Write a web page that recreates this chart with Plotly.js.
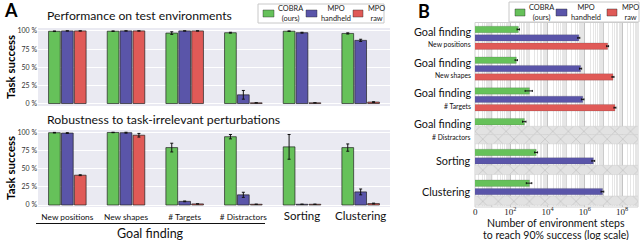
<!DOCTYPE html>
<html><head><meta charset="utf-8">
<script src="https://cdn.plot.ly/plotly-3.0.1.min.js"></script>
<style>html,body{margin:0;padding:0;background:#fff}#chart{width:640px;height:240px}</style>
</head><body><div id="chart"></div>
<script>
// ---------- DATA ----------
const categories = ['New positions','New shapes','# Targets','# Distractors','Sorting','Clustering'];
const seriesNames = ['COBRA<br>(ours)','MPO<br>handheld','MPO<br>raw'];
const colors = ['#66c15a','#5a55a9','#e05a57'];

// Panel A top: Performance on test environments (%)
const perfCobra      = [99.5, 99.6, 97.0, 97.5, 99.6, 96.5];
const perfCobraErr   = [0.4, 0.4, 1.8, 0.6, 0.4, 0.8];
const perfHandheld   = [100, 100, 100, 12, 97.5, 87];
const perfHandheldErr= [0, 0, 0, 6, 0.6, 1.5];
const perfRaw        = [100, 100, 100, 1, 1, 2];
const perfRawErr     = [0, 0, 0, 0, 0, 0.5];

// Panel A bottom: Robustness to task-irrelevant perturbations (%)
const robCobra       = [99.5, 99.8, 79, 94, 80, 79];
const robCobraErr    = [0.4, 0.3, 6, 3, 17, 5];
const robHandheld    = [99, 99.5, 5, 14, 1, 18];
const robHandheldErr = [0.5, 0.6, 0.5, 3.5, 0, 4];
const robRaw         = [41, 96, 1.5, 1, 1, 2];
const robRawErr      = [0.6, 2.5, 0, 0, 0, 0.6];

// Panel B: environment steps to reach 90% success
const stepGroups = ['Goal finding','Goal finding','Goal finding','Goal finding','Sorting','Clustering'];
const stepSubs   = ['New positions','New shapes','# Targets','# Distractors','',''];
const stepsCobra      = [270, 210, 1070, 570, 2450, 1070];
const stepsCobraErr   = [40, 30, 450, 120, 450, 350];
const stepsHandheld   = [4.8e5, 6.0e5, 7.8e5, null, 2.9e6, 9.0e6];
const stepsHandheldErr= [6e4, 8e4, 1.2e5, null, 5e5, 1.5e6];
const stepsRaw        = [1.7e7, 3.3e7, 4.2e7, null, null, null];
const stepsRawErr     = [2e6, 4e6, 5e6, null, null, null];
const handheldNotReached = [false, false, false, true, false, false];
const rawNotReached      = [false, false, false, true, true, true];

const xTickLabels = ['0','10<sup>2</sup>','10<sup>4</sup>','10<sup>6</sup>','10<sup>8</sup>'];

// ---------- LAYOUT HELPERS ----------
const W = 640, H = 240;
const X = p => p / W, Y = p => 1 - p / H;
const FONT = 'Lato, "Open Sans", sans-serif';

const stepIdx = stepGroups.map((g, i) => i);   // numeric category positions on the y3 axis

const leftOffsets = [-0.32, -0.1, 0.12], leftWidth = 0.2;
const rightOffsets = [-0.38, -0.105, 0.165], rightWidth = 0.21;
const edge = {color: 'rgba(30,30,30,0.85)', width: 0.8};
const errStyle = {color: '#111', thickness: 1, width: 1.5};

const perf = [[perfCobra, perfCobraErr],[perfHandheld, perfHandheldErr],[perfRaw, perfRawErr]];
const rob  = [[robCobra, robCobraErr],[robHandheld, robHandheldErr],[robRaw, robRawErr]];
const steps = [[stepsCobra, stepsCobraErr],[stepsHandheld, stepsHandheldErr],[stepsRaw, stepsRawErr]];

const traces = [];
for (let s = 0; s < 3; s++) {
  traces.push({type:'bar', x: categories, y: perf[s][0], xaxis:'x', yaxis:'y',
    offset: leftOffsets[s], width: leftWidth, marker:{color: colors[s], line: edge},
    error_y:{type:'data', array: perf[s][1], visible:true, ...errStyle}, showlegend:false, hoverinfo:'skip'});
  traces.push({type:'bar', x: categories, y: rob[s][0], xaxis:'x2', yaxis:'y2',
    offset: leftOffsets[s], width: leftWidth, marker:{color: colors[s], line: edge},
    error_y:{type:'data', array: rob[s][1], visible:true, ...errStyle}, showlegend:false, hoverinfo:'skip'});
  traces.push({type:'bar', orientation:'h', y: stepIdx, x: steps[s][0], xaxis:'x3', yaxis:'y3',
    offset: rightOffsets[s], width: rightWidth, marker:{color: colors[s], line:{color:'rgba(60,60,60,0.35)', width:0.5}},
    error_x:{type:'data', array: steps[s][1], visible:true, color:'#111', thickness:1, width:1}, showlegend:false, hoverinfo:'skip'});
}
// hatched "never reached" bars (fill whole axis)
const FAR = 1e10;
const hatch = {color:'#dedede', line:{color:'#cfcfcf', width:0.5},
  pattern:{shape:'x', fgcolor:'#c2c2c2', bgcolor:'#e2e2e2', size:11, solidity:0.12}};
traces.push({type:'bar', orientation:'h', y: stepIdx, x: handheldNotReached.map(v => v ? FAR : null),
  xaxis:'x3', yaxis:'y3', offset:-0.125, width:0.27, marker: hatch, showlegend:false, hoverinfo:'skip'});
traces.push({type:'bar', orientation:'h', y: stepIdx, x: rawNotReached.map(v => v ? FAR : null),
  xaxis:'x3', yaxis:'y3', offset:0.145, width:0.3, marker: hatch, showlegend:false, hoverinfo:'skip'});

// axis ticks / gridlines for the log axis (style only)
const LOGMIN = 0.1, LOGMAX = 8.86;
const majorVals = [Math.pow(10, 0.12), 1e2, 1e4, 1e6, 1e8];
const minorVals = [];
for (let d = 0; d <= 8; d++) for (let m = 2; m <= 9; m++) minorVals.push(m * Math.pow(10, d));

const yTickFont = {family: FONT, size: 7, color: '#333'};
const leftY = {tickvals:[0,25,50,75,100], ticktext:['0 %','25 %','50 %','75 %','100 %'],
  gridcolor:'#ffffff', gridwidth:1, zeroline:false, showline:false, ticks:'', tickfont: yTickFont, fixedrange:true};

const shapes = [
  // panel B white background
  {type:'rect', xref:'x3 domain', yref:'y3 domain', x0:0, x1:1, y0:0, y1:1, fillcolor:'#ffffff',
    line:{color:'#d0d0d0', width:1}, layer:'below'}
];
// darker gridlines at odd decades (10^1, 10^3, ...)
[1,3,5,7].forEach(d => {
  const f = (d - LOGMIN) / (LOGMAX - LOGMIN);
  shapes.push({type:'line', xref:'x3 domain', yref:'y3 domain', x0:f, x1:f, y0:0, y1:1, line:{color:'#c4c4c4', width:1}, layer:'below'});
});
shapes.push(
  // underline for "Goal finding"
  {type:'line', xref:'paper', yref:'paper', x0:X(36), x1:X(265), y0:Y(223.5), y1:Y(223.5), line:{color:'#111', width:1.2}},
  // legend boxes
  {type:'rect', xref:'paper', yref:'paper', x0:X(258), x1:X(384), y0:Y(4), y1:Y(23), fillcolor:'#fff', line:{color:'#c8c8c8', width:1}},
  {type:'rect', xref:'paper', yref:'paper', x0:X(509), x1:X(639), y0:Y(2), y1:Y(22), fillcolor:'#fff', line:{color:'#c8c8c8', width:1}}
);
const annotations = [
  {text:'<b>A</b>', x:X(2), y:Y(10), xanchor:'left', yanchor:'middle', font:{family:FONT, size:18, color:'#000'}},
  {text:'<b>B</b>', x:X(416), y:Y(11), xanchor:'left', yanchor:'middle', font:{family:FONT, size:18, color:'#000'}},
  {text:'Performance on test environments', x:X(45), y:Y(15), xanchor:'left', yanchor:'middle', font:{family:FONT, size:12.2, color:'#111'}},
  {text:'Robustness to task-irrelevant perturbations', x:X(45), y:Y(119), xanchor:'left', yanchor:'middle', font:{family:FONT, size:12.3, color:'#111'}},
  {text:'<b>Task success</b>', x:X(10), y:Y(67), textangle:-90, xanchor:'center', yanchor:'middle', font:{family:FONT, size:11.5, color:'#000'}},
  {text:'<b>Task success</b>', x:X(10), y:Y(168), textangle:-90, xanchor:'center', yanchor:'middle', font:{family:FONT, size:11.5, color:'#000'}},
  {text:'Goal finding', x:X(150), y:Y(233), xanchor:'center', yanchor:'middle', font:{family:FONT, size:12.5, color:'#111'}},
  {text:'Number of environment steps', x:X(556), y:Y(223), xanchor:'center', yanchor:'middle', font:{family:FONT, size:10.5, color:'#111'}},
  {text:'to reach 90% success (log scale)', x:X(556), y:Y(235), xanchor:'center', yanchor:'middle', font:{family:FONT, size:10.5, color:'#111'}}
];
annotations.forEach(a => { a.xref = 'paper'; a.yref = 'paper'; });
// panel B category labels (two-level)
stepGroups.forEach((g, i) => {
  const two = !!stepSubs[i];
  annotations.push({text: g, xref:'x3 domain', yref:'y3', x:0, y:i, xanchor:'right', yanchor:'middle', xshift:-2,
    yshift: two ? 6.5 : 0, font:{family:FONT, size:10.8, color:'#111'}});
  if (two) annotations.push({text: stepSubs[i], xref:'x3 domain', yref:'y3', x:0, y:i, xanchor:'right', yanchor:'middle', xshift:-2,
    yshift: -6.5, font:{family:FONT, size:6.8, color:'#111'}});
});
// manual legends
const legA = {sw:[[263,274],[306,317],[353,363]], tx:[276,319,366], y0:10, y1:17};
const legB = {sw:[[515,525],[556,567],[607,617]], tx:[527,569,620], y0:9, y1:16};
[legA, legB].forEach(L => {
  for (let s = 0; s < 3; s++) {
    shapes.push({type:'rect', xref:'paper', yref:'paper', x0:X(L.sw[s][0]), x1:X(L.sw[s][1]), y0:Y(L.y1), y1:Y(L.y0),
      fillcolor: colors[s], line:{color:'rgba(40,40,40,0.7)', width:0.6}});
    annotations.push({text: seriesNames[s], xref:'paper', yref:'paper', x:X(L.tx[s]), y:Y((L.y0+L.y1)/2), xanchor:'left', yanchor:'middle', align:'center',
      font:{family:FONT, size:7.4, color:'#222'}});
  }
});
annotations.forEach(a => { a.showarrow = false; });

const layout = {
  width: W, height: H, margin:{l:0, r:0, t:0, b:0}, paper_bgcolor:'#ffffff', plot_bgcolor:'#eaeaf2',
  barmode:'overlay', showlegend:false, font:{family: FONT},
  xaxis:{domain:[X(38), X(390)], anchor:'y', type:'category', showticklabels:false, showgrid:false, zeroline:false, ticks:'', fixedrange:true},
  yaxis:Object.assign({domain:[Y(106), Y(28)], anchor:'x', range:[-3.4, 104]}, leftY),
  xaxis2:{domain:[X(38), X(390)], anchor:'y2', type:'category', showgrid:false, zeroline:false, ticks:'',
    tickvals: categories,
    ticktext: categories.map((c,i) => i < 4 ? '<span style="font-size:8.3px">' + c + '</span>' : c),
    tickfont:{family:FONT, size:11.5, color:'#111'}, fixedrange:true},
  yaxis2:Object.assign({domain:[Y(207), Y(130)], anchor:'x2', range:[-2.75, 103.2]}, leftY),
  xaxis3:{domain:[X(475), X(638)], anchor:'y3', type:'log', range:[LOGMIN, LOGMAX], tickmode:'array', tickvals: majorVals, ticktext: xTickLabels,
    showgrid:true, gridcolor:'#c4c4c4', gridwidth:1, zeroline:false, ticks:'', ticklabelstandoff:-2,
    minor:{tickvals: minorVals, showgrid:true, gridcolor:'#e6e6e6', gridwidth:1, ticks:''},
    tickfont:{family:'"Liberation Serif", serif', size:9, color:'#222'}, fixedrange:true},
  yaxis3:{domain:[Y(207), Y(22.5)], anchor:'x3', type:'linear', range:[5.5, -0.5], showticklabels:false, showgrid:false, zeroline:false, ticks:'', fixedrange:true},
  shapes: shapes, annotations: annotations
};
Plotly.newPlot('chart', traces, layout, {staticPlot:true, displayModeBar:false});
</script></body></html>
